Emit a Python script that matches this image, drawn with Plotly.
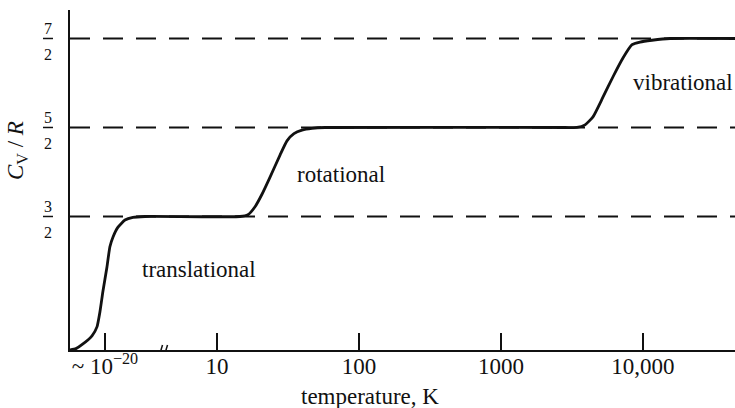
import plotly.graph_objects as go

# Horizontal axis: decades of temperature (log10 T) to the right of the break;
# the far-left stretch holds the ~1e-20 K region.
x_min, x_max = -0.035, 4.648
y_min, y_max = 0.0, 3.82
break_at = 0.627

# Heat capacity C_V/R, in axis units
trans_x = [-0.035, 0.007, 0.049, 0.120, 0.155, 0.176, 0.197, 0.225, 0.246, 0.268, 0.303, 0.352, 0.408, 0.493]
trans_y = [0.0, 0.015, 0.06, 0.16, 0.26, 0.43, 0.66, 0.93, 1.16, 1.27, 1.38, 1.46, 1.49, 1.5]

rot_x = [1.162, 1.218, 1.268, 1.317, 1.373, 1.444, 1.493, 1.542, 1.599, 1.669, 1.761]
rot_y = [1.5, 1.52, 1.61, 1.75, 1.94, 2.19, 2.35, 2.43, 2.47, 2.49, 2.5]

vib_x = [3.451, 3.535, 3.592, 3.648, 3.718, 3.789, 3.859, 3.923, 3.979, 4.063, 4.190, 4.648]
vib_y = [2.5, 2.5, 2.53, 2.62, 2.84, 3.07, 3.28, 3.43, 3.46, 3.48, 3.5, 3.5]

curve_x = trans_x + rot_x + vib_x
curve_y = trans_y + rot_y + vib_y

# Classical plateaus and their fraction labels
levels = [1.5, 2.5, 3.5]
numerators = ["3", "5", "7"]
denominators = ["2", "2", "2"]

# Temperature ticks
tick_pos = [0.211, 1, 2, 3, 4]
tick_text = ["~ 10<sup>\u221220</sup>", "10", "100", "1000", "10,000"]

# Mode labels
mode_names = ["translational", "rotational", "vibrational"]
mode_x = [0.873, 1.873, 4.282]
mode_y = [0.90, 1.97, 3.01]

serif = "Liberation Serif, Times New Roman, serif"
ink = "#111111"

fig = go.Figure()

for lv in levels:
    fig.add_trace(go.Scatter(
        x=[x_min, x_max], y=[lv, lv], mode="lines",
        line=dict(color=ink, width=1.8, dash="20px,13px"),
        hoverinfo="skip", showlegend=False,
    ))

fig.add_trace(go.Scatter(
    x=curve_x, y=curve_y, mode="lines",
    line=dict(color=ink, width=2.8, shape="spline", smoothing=0.5),
    showlegend=False,
))

annotations = []
for name, mx, my in zip(mode_names, mode_x, mode_y):
    annotations.append(dict(
        x=mx, y=my, xref="x", yref="y", text=name, showarrow=False,
        font=dict(family=serif, size=23, color=ink),
        xanchor="center", yanchor="middle",
    ))

# Stacked fractions on the vertical axis
frac_x = -0.0331
shapes = []
for lv, num, den in zip(levels, numerators, denominators):
    annotations.append(dict(
        x=frac_x, y=lv, xref="paper", yref="y", text=num, showarrow=False,
        font=dict(family=serif, size=16, color=ink),
        xanchor="center", yanchor="bottom", yshift=-1,
    ))
    annotations.append(dict(
        x=frac_x, y=lv, xref="paper", yref="y", text=den, showarrow=False,
        font=dict(family=serif, size=16, color=ink),
        xanchor="center", yanchor="top", yshift=-6,
    ))
    frac_bar_y = (lv - y_min) / (y_max - y_min)
    shapes.append(dict(
        type="line", xref="paper", yref="paper", layer="above",
        x0=-0.0406, x1=-0.0256, y0=frac_bar_y, y1=frac_bar_y,
        line=dict(color=ink, width=1.5),
    ))

annotations.append(dict(
    x=-0.0797, y=0.588, xref="paper", yref="paper",
    text="<i>C</i><sub>V</sub> / <i>R</i>", showarrow=False, textangle=-90,
    font=dict(family=serif, size=23, color=ink),
    xanchor="center", yanchor="middle",
))
annotations.append(dict(
    x=0.451, y=-0.138, xref="paper", yref="paper",
    text="temperature, K", showarrow=False,
    font=dict(family=serif, size=23, color=ink),
    xanchor="center", yanchor="middle",
))

# Break in the temperature axis
shapes.append(dict(
    type="rect", xref="x", yref="y", xsizemode="pixel", ysizemode="pixel",
    xanchor=break_at, yanchor=0, x0=-4, x1=4, y0=-6, y1=6,
    fillcolor="white", line=dict(width=0), layer="above",
))
for dx in (-3, 2):
    shapes.append(dict(
        type="line", xref="x", yref="y", xsizemode="pixel", ysizemode="pixel",
        xanchor=break_at, yanchor=0, x0=dx - 1.5, x1=dx + 1.5, y0=-5, y1=5,
        line=dict(color=ink, width=1.5), layer="above",
    ))

fig.update_layout(
    width=735, height=408,
    margin=dict(l=70, r=0, t=10, b=58),
    paper_bgcolor="white", plot_bgcolor="white",
    annotations=annotations, shapes=shapes,
    xaxis=dict(
        range=[x_min, x_max], showgrid=False, zeroline=False,
        showline=True, linecolor=ink, linewidth=2, layer="below traces",
        ticks="inside", ticklen=17, tickwidth=1.5, tickcolor=ink,
        tickvals=tick_pos, ticktext=tick_text, ticklabelstandoff=-6,
        tickfont=dict(family=serif, size=23, color=ink),
    ),
    yaxis=dict(
        range=[y_min, y_max], showgrid=False, zeroline=False,
        showline=True, linecolor=ink, linewidth=2, layer="below traces",
        ticks="", showticklabels=False,
    ),
)

fig.write_html("out.html")
